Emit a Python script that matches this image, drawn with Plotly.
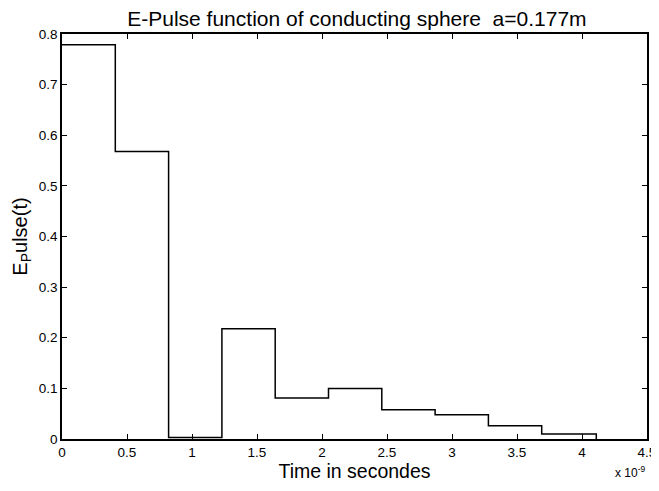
import plotly.graph_objects as go

# Step edges (seconds) and step values
t_edges = [0, 0.41e-9, 0.82e-9, 1.23e-9, 1.64e-9, 2.05e-9, 2.46e-9, 2.87e-9, 3.28e-9, 3.69e-9, 4.11e-9]
e_values = [0.779, 0.568, 0.003, 0.218, 0.081, 0.100, 0.058, 0.048, 0.026, 0.010, 0.0]

x_tickvals = [0, 0.5e-9, 1e-9, 1.5e-9, 2e-9, 2.5e-9, 3e-9, 3.5e-9, 4e-9, 4.5e-9]
x_ticktext = ["0", "0.5", "1", "1.5", "2", "2.5", "3", "3.5", "4", "4.5"]
y_tickvals = [0, 0.1, 0.2, 0.3, 0.4, 0.5, 0.6, 0.7, 0.8]
y_ticktext = ["0", "0.1", "0.2", "0.3", "0.4", "0.5", "0.6", "0.7", "0.8"]

FONT = "Liberation Sans, Arial, Helvetica, sans-serif"

fig = go.Figure()
fig.add_trace(go.Scatter(
    x=t_edges, y=e_values, mode="lines",
    line=dict(shape="hv", color="black", width=1.5),
    showlegend=False, hoverinfo="skip",
))

axis_common = dict(
    showline=True, linecolor="black", linewidth=1.5, mirror="ticks",
    ticks="inside", ticklen=5, tickwidth=1, tickcolor="black",
    showgrid=False, zeroline=False, automargin=False,
    tickfont=dict(family=FONT, size=13.5, color="black"),
)

# page has an 8px body margin, so the figure is sized 8px smaller
fig.update_layout(
    width=651, height=483,
    margin=dict(l=54, r=12, t=26, b=52, autoexpand=False),
    paper_bgcolor="white", plot_bgcolor="white",
    font=dict(family=FONT, color="black"),
    title=dict(
        text="E-Pulse function of conducting sphere\u00a0\u00a0a=0.177m",
        x=0.536, xanchor="center", y=0.978, yanchor="middle",
        font=dict(family=FONT, size=21, color="black"),
    ),
    xaxis=dict(
        range=[0, 4.5e-9], tickvals=x_tickvals, ticktext=x_ticktext,
        title=dict(text="Time in secondes", font=dict(family=FONT, size=19.5), standoff=4),
        **axis_common,
    ),
    yaxis=dict(
        range=[0, 0.8], tickvals=y_tickvals, ticktext=y_ticktext,
        title=dict(text="E<sub>P</sub>ulse(t)", font=dict(family=FONT, size=20), standoff=6),
        **axis_common,
    ),
    annotations=[dict(
        text="x 10<sup>-9</sup>", xref="paper", yref="paper",
        x=1.0, y=-0.058, xanchor="right", yanchor="top", showarrow=False,
        font=dict(family=FONT, size=12, color="black"),
    )],
)

fig.write_html("out.html")
